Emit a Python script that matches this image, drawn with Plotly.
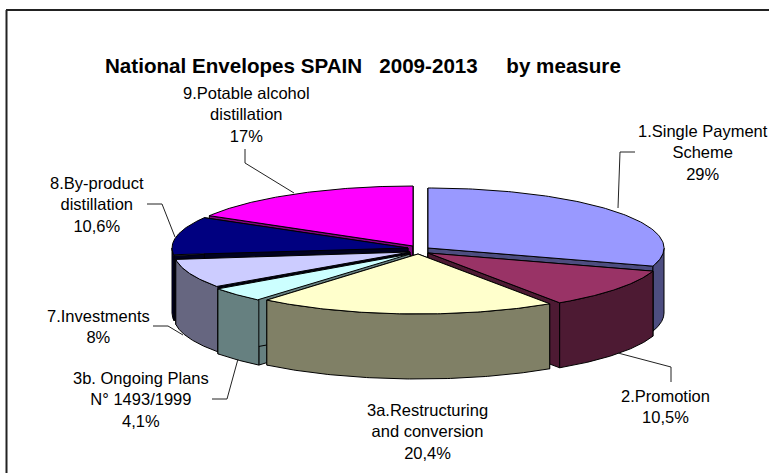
import numpy as np
import plotly.graph_objects as go

# ---- data ----
measures = ["1.Single Payment<br>Scheme", "2.Promotion", "3a.Restructuring<br>and conversion",
            "3b. Ongoing Plans<br>N° 1493/1999", "7.Investments",
            "8.By-product<br>distillation", "9.Potable alcohol<br>distillation"]
shares = [29, 10.5, 20.4, 4.1, 8, 10.6, 17]
share_labels = ["29%", "10,5%", "20,4%", "4,1%", "8%", "10,6%", "17%"]
title_text = "National Envelopes SPAIN\u00a0\u00a0\u00a02009-2013\u00a0\u00a0\u00a0\u00a0\u00a0by measure"

# ---- style ----
top_colors = ["#9999FF", "#993366", "#FFFFCC", "#CCFFFF", "#CCCCFF", "#000080", "#FF00FF"]
wall_colors = ["#4D4D80", "#4D1A33", "#808066", "#668080", "#666680", "#000040", "#800080"]
radial_colors = ["#4D4D80", "#4D1A33", "#808066", "#668080", "#000010", "#000020", "#800080"]
apex_x = [428, 428, 418, 410, 410, 408, 413]
apex_y = [248, 253, 254, 254, 252, 248, 246]
label_x = [703, 665, 427, 141, 98, 97, 246]
label_y = [152, 406, 431, 399, 326, 204, 114]
RX, RY, DEPTH = 236, 60, 65
VIEW_SKEW = np.radians(3.5)   # the 3D view's perspective drift of slice edges
draw_order = [6, 0, 5, 1, 4, 3, 2]
leaders = [
    [(635, 152), (620, 152), (618, 208)],
    [(618, 353), (671, 367), (671, 382)],
    [(212, 399), (227, 399), (238, 359)],
    [(153, 326), (168, 326), (183, 335)],
    [(147, 204), (162, 204), (175, 237)],
    [(245, 149), (245, 163), (294, 193)],
]

fig = go.Figure()


def poly(xs, ys, fill):
    fig.add_trace(go.Scatter(x=list(xs) + [xs[0]], y=list(ys) + [ys[0]], mode="lines", fill="toself",
                             fillcolor=fill, line=dict(color="#000000", width=1),
                             hoverinfo="skip", showlegend=False))


edges = np.cumsum([0] + shares) / sum(shares) * 2 * np.pi
edges = edges + VIEW_SKEW * np.sin(edges / 2)

for i in draw_order:
    a0, a1 = edges[i], edges[i + 1]
    cx, cy = apex_x[i], apex_y[i]
    t = np.linspace(a0, a1, 120)
    ex, ey = cx + RX * np.sin(t), cy - RY * np.cos(t)
    # radial walls
    for a in (a0, a1):
        rx_, ry_ = cx + RX * np.sin(a), cy - RY * np.cos(a)
        poly([cx, rx_, rx_, cx], [cy, ry_, ry_ + DEPTH, cy + DEPTH], radial_colors[i])
    # outer wall, front half only
    lo, hi = max(a0, np.pi / 2), min(a1, 3 * np.pi / 2)
    if hi > lo:
        tw = np.linspace(lo, hi, 120)
        wx, wy = cx + RX * np.sin(tw), cy - RY * np.cos(tw)
        poly(np.r_[wx, wx[::-1]], np.r_[wy, wy[::-1] + DEPTH], wall_colors[i])
    # top surface
    poly(np.r_[cx, ex], np.r_[cy, ey], top_colors[i])

for pts in leaders:
    fig.add_trace(go.Scatter(x=[p[0] for p in pts], y=[p[1] for p in pts], mode="lines",
                             line=dict(color="#222222", width=1), hoverinfo="skip", showlegend=False))

annotations = [dict(x=lx, y=ly, xref="x", yref="y", text=f"{m}<br>{s}", showarrow=False, align="center",
                    xanchor="center", yanchor="middle",
                    font=dict(family="Liberation Sans", size=16.5, color="#000000"))
               for m, s, lx, ly in zip(measures, share_labels, label_x, label_y)]
annotations.append(dict(x=363, y=65, xref="x", yref="y", text=f"<b>{title_text}</b>", showarrow=False,
                        xanchor="center", yanchor="middle",
                        font=dict(family="Liberation Sans", size=20.6, color="#000000")))

fig.update_layout(
    width=769, height=473, margin=dict(l=0, r=0, t=0, b=0), autosize=False,
    paper_bgcolor="white", plot_bgcolor="white", annotations=annotations,
    xaxis=dict(range=[0, 769], visible=False, fixedrange=True),
    yaxis=dict(range=[473, 0], visible=False, fixedrange=True),
    shapes=[dict(type="line", xref="x", yref="y", x0=6.5, y0=473, x1=6.5, y1=10, line=dict(color="#222222", width=2)),
            dict(type="line", xref="x", yref="y", x0=6, y0=10, x1=769, y1=10, line=dict(color="#222222", width=2))],
)
fig.write_html("out.html", config=dict(displayModeBar=False),
               post_script="document.body.style.margin='0';document.documentElement.style.overflow='hidden';")
